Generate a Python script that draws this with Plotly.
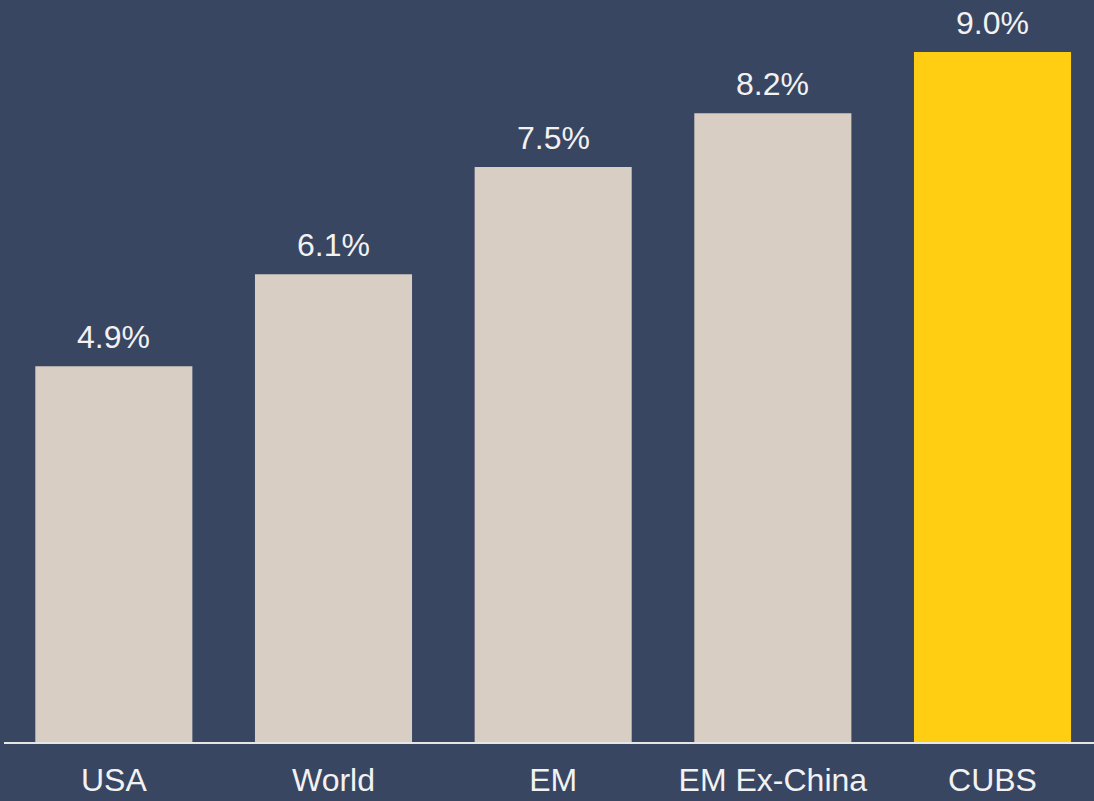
import plotly.graph_objects as go

categories = ["USA", "World", "EM", "EM Ex-China", "CUBS"]
values = [4.9, 6.1, 7.5, 8.2, 9.0]
bar_colors = ["#D8CEC3", "#D8CEC3", "#D8CEC3", "#D8CEC3", "#FFCE12"]

BG = "#384662"
TEXT = "#F2F2F2"
FONT = "Liberation Sans, Arial, sans-serif"

fig = go.Figure(
    go.Bar(
        x=categories,
        y=values,
        marker=dict(color=bar_colors, line=dict(width=0)),
        hoverinfo="skip",
    )
)

for cat, val in zip(categories, values):
    fig.add_annotation(
        x=cat, y=val, text=f"{val:.1f}%",
        showarrow=False, yanchor="bottom", yshift=9,
        font=dict(family=FONT, size=32, color=TEXT),
    )

fig.update_layout(
    width=1094, height=801,
    margin=dict(l=4, r=0, t=0, b=59),
    paper_bgcolor=BG, plot_bgcolor=BG,
    bargap=0.285,
    showlegend=False,
    font=dict(family=FONT, size=30, color=TEXT),
)
fig.update_xaxes(
    range=[-0.5, 4.462],
    showline=True, linecolor="#E6E6E6", linewidth=2,
    showgrid=False, zeroline=False,
    ticks="", ticklabelstandoff=9,
    tickfont=dict(family=FONT, size=32, color=TEXT),
)
fig.update_yaxes(
    range=[0, 9.678], visible=False, showgrid=False, zeroline=False,
)

fig.write_html("out.html")
